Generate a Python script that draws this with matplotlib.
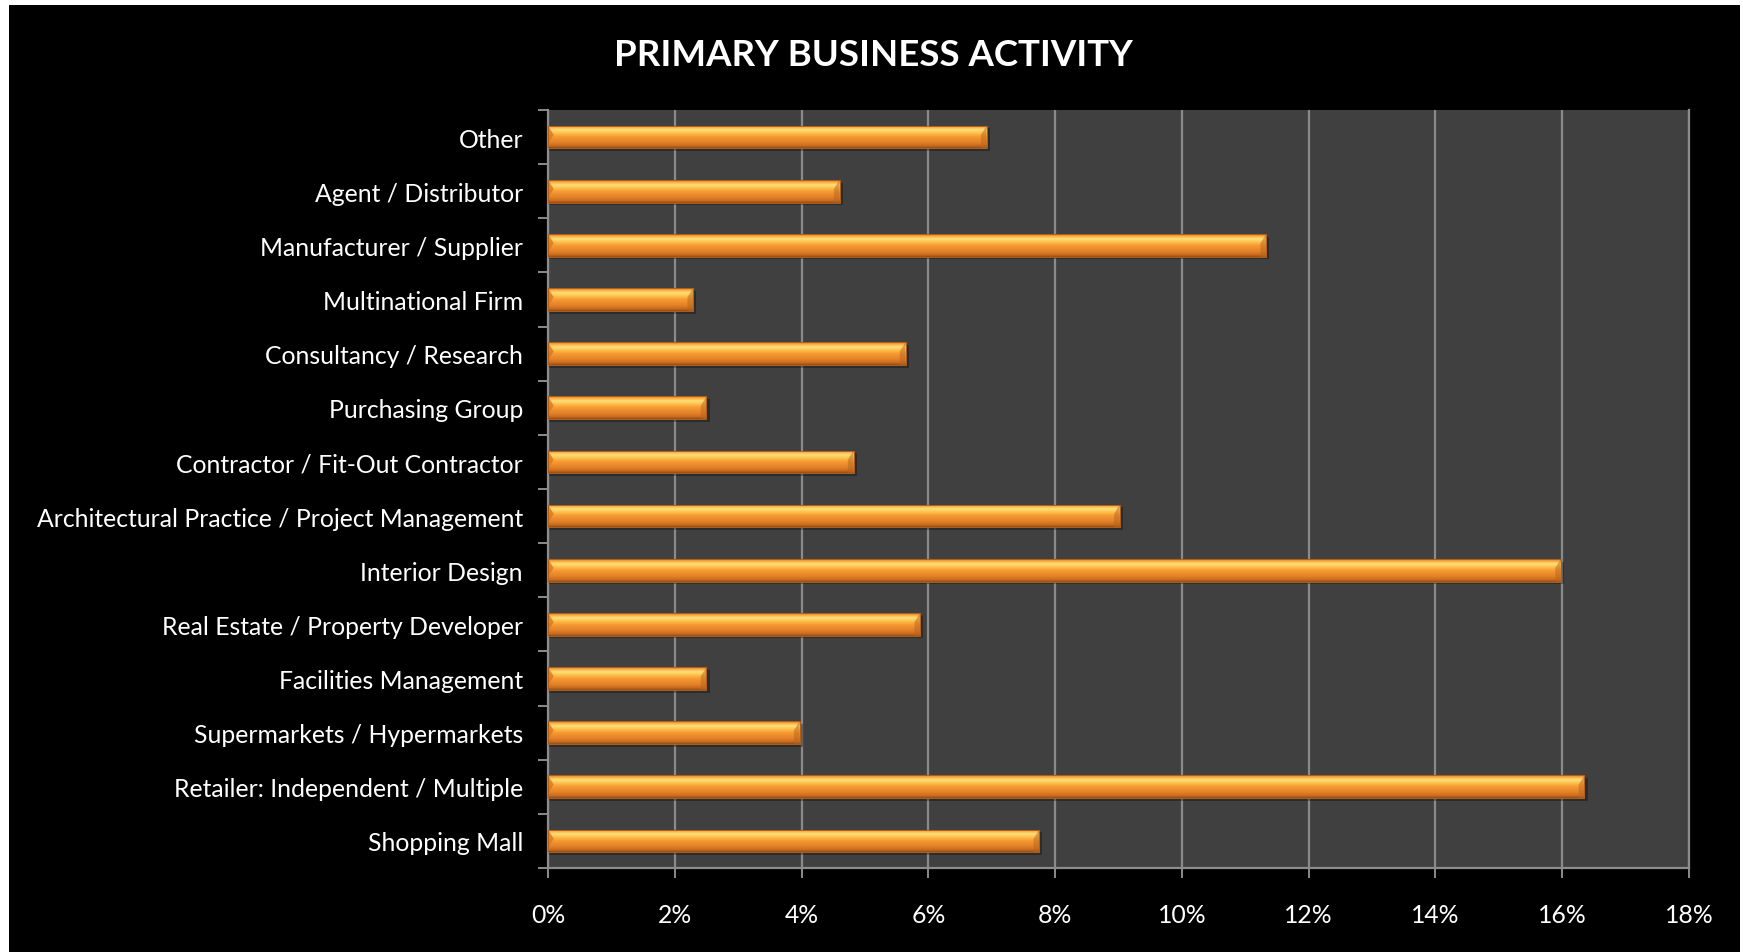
import numpy as np
import matplotlib
matplotlib.use('Agg')
import matplotlib.pyplot as plt
from matplotlib.colors import LinearSegmentedColormap
from matplotlib.patches import Rectangle, Polygon
from matplotlib.ticker import FuncFormatter, FixedLocator

plt.rcParams['font.family'] = ['Lato', 'DejaVu Sans']

# categories from bottom to top
categories = ['Shopping Mall', 'Retailer: Independent / Multiple', 'Supermarkets / Hypermarkets',
              'Facilities Management', 'Real Estate / Property Developer', 'Interior Design',
              'Architectural Practice / Project Management', 'Contractor / Fit-Out Contractor',
              'Purchasing Group', 'Consultancy / Research', 'Multinational Firm',
              'Manufacturer / Supplier', 'Agent / Distributor', 'Other']
shares = [7.75, 16.35, 3.97, 2.50, 5.87, 15.98, 9.02, 4.82, 2.50, 5.64, 2.29, 11.33, 4.60, 6.92]
x_ticks = [0, 2, 4, 6, 8, 10, 12, 14, 16, 18]

# vertical shading of the bars, top to bottom
bar_cmap = LinearSegmentedColormap.from_list('bar', [
    (0.00, '#c8701f'), (0.07, '#f7a43a'), (0.20, '#ffe07a'), (0.34, '#fdc24e'),
    (0.50, '#f79a32'), (0.75, '#e38228'), (0.90, '#cc6e20'), (1.00, '#944e18')])
grad = np.linspace(0, 1, 64).reshape(-1, 1)

fig = plt.figure(figsize=(17.43, 9.53), dpi=100, facecolor='white')
fig.patches.append(Rectangle((9 / 1743, 0), 1731 / 1743, 947 / 953, transform=fig.transFigure,
                             facecolor='black', edgecolor='none', zorder=-10))
ax = fig.add_axes([548 / 1743, 84 / 953, 1141 / 1743, 758 / 953])
ax.set_facecolor('#404040')

h = 0.42
bev = 0.09
for i, v in enumerate(shares):
    y0, y1 = i - h / 2, i + h / 2
    # soft shadow under the bar
    ax.add_patch(Rectangle((0, y0 - 0.05), v + 0.05, h, facecolor='black', alpha=0.3,
                           edgecolor='none', zorder=2))
    im = ax.imshow(grad, extent=[0, v, y0, y1], cmap=bar_cmap, aspect='auto',
                   origin='upper', zorder=3, interpolation='bilinear')
    rect = Rectangle((0, y0), v, h, facecolor='none', edgecolor='none')
    ax.add_patch(rect)
    im.set_clip_path(rect)
    # bevelled ends
    ax.add_patch(Polygon([(0, y1), (bev, i + h * 0.1), (0, y0 + h * 0.2)], closed=True,
                         facecolor='#e0741c', alpha=0.8, edgecolor='none', zorder=4))
    ax.add_patch(Polygon([(v, y1), (v - bev, i + h * 0.1), (v - bev, y0), (v, y0)], closed=True,
                         facecolor='#b8641e', alpha=0.5, edgecolor='none', zorder=4))
    ax.add_patch(Rectangle((0, y0), v, h, facecolor='none', edgecolor='#b0601c',
                           linewidth=0.7, zorder=5))

ax.set_xlim(0, 18)
ax.set_ylim(-0.5, len(categories) - 0.5)
ax.xaxis.set_major_locator(FixedLocator(x_ticks))
ax.xaxis.set_major_formatter(FuncFormatter(lambda x, p: '%d%%' % x))
ax.grid(axis='x', color='#8a8a8a', linewidth=1.6, zorder=1)
ax.set_axisbelow(True)

ax.set_yticks(range(len(categories)))
ax.set_yticklabels(categories)
ax.yaxis.set_minor_locator(FixedLocator(np.arange(-0.5, len(categories), 1)))
ax.tick_params(axis='y', which='major', length=0, pad=18, labelcolor='white', labelsize=17.8)
ax.tick_params(axis='y', which='minor', length=7, width=1.4, color='#8c8c8c', direction='out')
ax.tick_params(axis='x', length=7, width=1.4, color='#8c8c8c', direction='out', pad=18,
               labelcolor='white', labelsize=17.8)

for side in ['left', 'bottom', 'right']:
    ax.spines[side].set_color('#8c8c8c')
    ax.spines[side].set_linewidth(1.6)
ax.spines['top'].set_visible(False)

fig.text(873 / 1743, 1 - 56 / 953, 'PRIMARY BUSINESS ACTIVITY', color='white', fontsize=26.4,
         fontweight='bold', ha='center', va='center')

fig.savefig('out.png', dpi=100, facecolor=fig.get_facecolor())
